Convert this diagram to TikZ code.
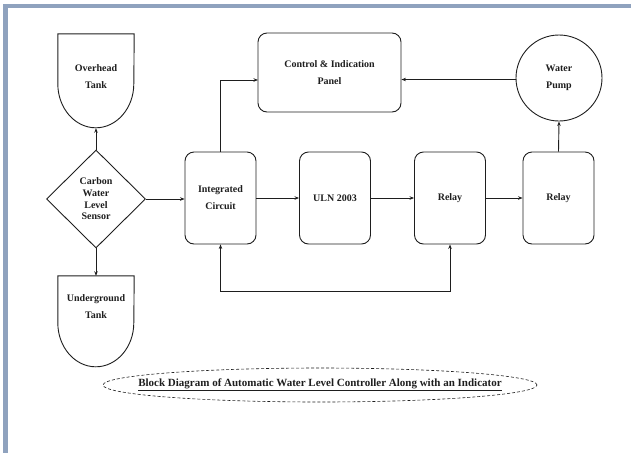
\documentclass[tikz,border=0pt]{standalone}
\usepackage{fontspec}
\setmainfont{Liberation Serif}
\usetikzlibrary{shapes.geometric,arrows.meta}
\definecolor{framecol}{HTML}{8FA2BE}
\definecolor{ink}{HTML}{1E1E1E}
\begin{document}
\begin{tikzpicture}[x=1pt,y=1pt,
  every node/.style={font=\fontsize{10}{17}\selectfont\bfseries, text=ink},
  conn/.style={draw=ink, line width=0.9pt, -{Stealth[length=4.5pt,width=3.5pt]}},
  blk/.style={draw=ink, line width=0.9pt, rounded corners=9pt, minimum width=71pt, minimum height=92pt, align=center},
  tankbox/.style={minimum width=76pt, inner sep=0pt},
  tankline/.style={draw=ink, line width=0.9pt},
  txt/.style={align=center}]
\useasboundingbox (0,0) rectangle (631,-453);
% frame
\fill[framecol] (3,-4) rectangle (631,-7.5);
\fill[framecol] (3,-4) rectangle (7.5,-453);

% overhead tank
\node[tankbox, minimum height=94pt] (ot) at (96,-81) {};
\draw[tankline] (ot.north west) -- ++(0,-50) arc[start angle=180, end angle=360, x radius=38pt, y radius=44pt] -- (ot.north east) -- cycle;
\node[txt] (ott) at (96,-76.5) {Overhead\\Tank};

% underground tank
\node[tankbox, minimum height=91pt] (ut) at (96,-321.5) {};
\draw[tankline] (ut.north west) -- ++(0,-47) arc[start angle=180, end angle=360, x radius=38pt, y radius=44pt] -- (ut.north east) -- cycle;
\node[txt] (utt) at (96,-306.5) {Underground\\Tank};

% sensor diamond
\node[diamond, draw=ink, line width=0.9pt, minimum width=99pt, minimum height=98pt, inner sep=0pt, aspect=1,
  align=center, font=\fontsize{10}{11.7}\selectfont\bfseries] (cs) at (96,-199) {Carbon\\Water\\Level\\Sensor};

% blocks
\node[blk] (ic) at (220.5,-198) {Integrated\\Circuit};
\node[blk] (uln) at (335,-198) {ULN 2003};
\node[blk] (r1) at (450,-198) {Relay};
\node[blk] (r2) at (558.5,-198) {Relay};
\node[blk, minimum width=143pt, minimum height=79pt] (cp) at (329.5,-72.5) {Control \& Indication\\Panel};
\node[circle, draw=ink, line width=0.9pt, minimum size=86pt, inner sep=0pt, align=center] (wp) at (559,-78) {Water\\Pump};

% connectors
\draw[conn] (cs.north) -- (ot.south);
\draw[conn] (cs.south) -- (ut.north);
\draw[conn] (cs.east) -- (cs.east -| ic.west);
\draw[conn] (ic.east) -- (uln.west);
\draw[conn] (uln.east) -- (r1.west);
\draw[conn] (r1.east) -- (r2.west);
\draw[conn] (r2.north) -- (wp.south);
\coordinate (cpin) at (258,-80);
\draw[conn] (ic.north) |- (cpin);
\coordinate (cpr) at (cp.east |- 0,-79.5);
\draw[conn] (wp.west |- cpr) -- (cpr);
\coordinate (fb) at (ic.south |- 0,-291);
\draw[conn, {Stealth[length=4.5pt,width=3.5pt]}-{Stealth[length=4.5pt,width=3.5pt]}] (ic.south) -- (fb) -| (r1.south);

% caption
\node[inner sep=0pt, font=\fontsize{11}{13}\selectfont\bfseries] (cap) at (320,-385)
  {\underline{Block Diagram of Automatic Water Level Controller Along with an Indicator}};
\draw[ink, densely dashed, line width=0.6pt] (cap.center) ellipse [x radius=217pt, y radius=17pt];
\end{tikzpicture}
\end{document}
